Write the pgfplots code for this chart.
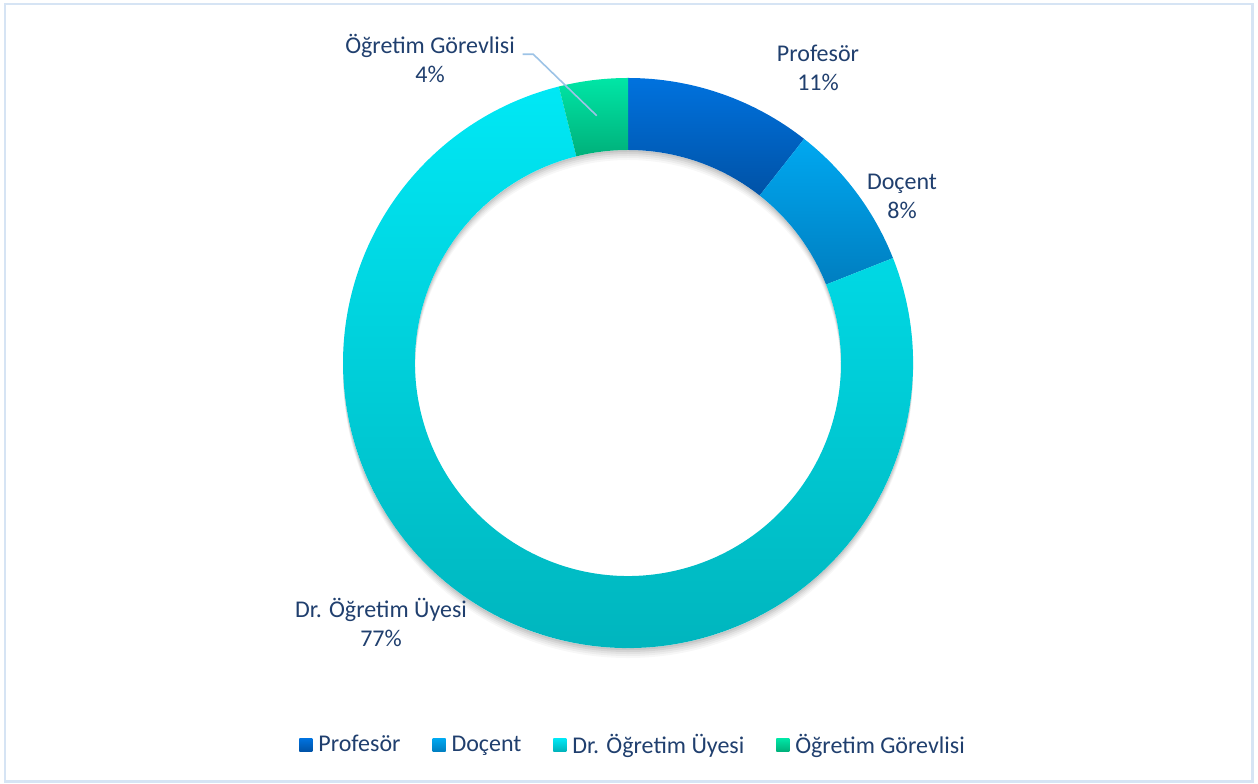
\documentclass[border=0pt]{standalone}
\usepackage{pgfplots}
\pgfplotsset{compat=1.18}
\usepackage{pgfplotstable}
\usepackage{fontspec}
\setmainfont{Carlito}
\usetikzlibrary{calc}

\definecolor{txt}{HTML}{203F6E}
\definecolor{pT}{HTML}{0072DE}\definecolor{pB}{HTML}{0052A6}
\definecolor{dT}{HTML}{00A8F0}\definecolor{dB}{HTML}{007EC0}
\definecolor{uT}{HTML}{00E8F5}\definecolor{uB}{HTML}{00B2BA}
\definecolor{gT}{HTML}{00E6A6}\definecolor{gB}{HTML}{00B07A}
\definecolor{frame}{HTML}{D6E4F4}
\definecolor{leader}{HTML}{9DC3E6}

\pgfplotstableread{
name value
Profesor 10.6
Docent 8.4
DrOU 77.1
OG 3.9
}\shares

\newcommand\lblfont{\fontsize{12bp}{14.5bp}\selectfont}
\newcommand\pct[1]{\pgfmathprintnumber[fixed,precision=0,assume math mode=true]{#1}\%}
\newcommand\sector[4]{%
  \shade[top color=#3,bottom color=#4]
    ($(O)+(#1:142.5bp)$) arc[start angle=#1,end angle=#2,radius=142.5bp]
    -- ($(O)+(#2:106.5bp)$) arc[start angle=#2,end angle=#1,radius=106.5bp] -- cycle;}
\newcommand\shadowring[2]{%
  \fill[black,opacity=#2,even odd rule]
    ($(O)+(0,-#1)$) circle[radius=142.5bp]
    ($(O)+(0,-#1)$) circle[radius=106.5bp];}
\newcommand\legsq[2]{\path[draw=none,fill=none] (0bp,0bp) rectangle (8bp,0.1bp);\shade[draw=none,top color=#1,bottom color=#2] (0bp,-3.25bp) rectangle (6.5bp,3.25bp);}

\begin{document}
\begin{tikzpicture}[x=0.5bp,y=0.5bp]
\path[use as bounding box] (0,0) rectangle (1258,783);
\pgfplotstablegetelem{0}{value}\of\shares \let\vA\pgfplotsretval
\pgfplotstablegetelem{1}{value}\of\shares \let\vB\pgfplotsretval
\pgfplotstablegetelem{2}{value}\of\shares \let\vC\pgfplotsretval
\pgfplotstablegetelem{3}{value}\of\shares \let\vD\pgfplotsretval
\pgfmathsetmacro\aO{90}
\pgfmathsetmacro\aA{\aO-3.6*\vA}
\pgfmathsetmacro\aB{\aA-3.6*\vB}
\pgfmathsetmacro\aC{\aB-3.6*\vC}
\pgfmathsetmacro\aD{\aC-3.6*\vD}
\begin{axis}[
  x=0.5bp, y=0.5bp, xmin=0, xmax=1258, ymin=0, ymax=783,
  scale only axis, hide axis, clip=false,
  anchor=south west, at={(0,0)},
  legend columns=4,
  legend style={at={(axis cs:299,38)}, anchor=west, draw=none, fill=none,
    font=\lblfont, text=txt, inner sep=0pt,
    nodes={inner sep=1.5bp},
    /tikz/every even column/.append style={column sep=14.5bp}},
  legend cell align=left,
]
\coordinate (O) at (axis cs:628,420);
% soft shadow
\shadowring{1bp}{0.07}
\shadowring{2bp}{0.06}
\shadowring{3bp}{0.05}
\shadowring{4bp}{0.04}
\shadowring{5bp}{0.03}
\fill[white,even odd rule] (O) circle[radius=142.5bp] (O) circle[radius=106.5bp];
\sector{\aO}{\aA}{pT}{pB}
\sector{\aA}{\aB}{dT}{dB}
\sector{\aB}{\aC}{uT}{uB}
\sector{\aC}{\aD}{gT}{gB}

\addlegendimage{legend image code/.code={\legsq{pT}{pB}}}
\addlegendentry{Profesör}
\addlegendimage{legend image code/.code={\legsq{dT}{dB}}}
\addlegendentry{Doçent}
\addlegendimage{legend image code/.code={\legsq{uT}{uB}}}
\addlegendentry{Dr. Öğretim Üyesi}
\addlegendimage{legend image code/.code={\legsq{gT}{gB}}}
\addlegendentry{Öğretim Görevlisi}

% data labels
\node[align=center,text=txt,font=\lblfont] at (axis cs:818,715) {Profesör\\\pct{\vA}};
\node[align=center,text=txt,font=\lblfont] at (axis cs:902,587) {Doçent\\\pct{\vB}};
\node[align=center,text=txt,font=\lblfont] at (axis cs:381,161) {Dr. Öğretim Üyesi\\\pct{\vC}};
\node[align=center,text=txt,font=\lblfont] at (axis cs:430,725) {Öğretim Görevlisi\\\pct{\vD}};
\draw[leader,line width=0.8bp] (axis cs:522.7,728.7) -- (axis cs:533.3,728.7) -- (axis cs:596.7,667.3);
% frame
\draw[frame,line width=1.2bp] (axis cs:5,779) rectangle (axis cs:1252.5,1.5);
\end{axis}
\end{tikzpicture}
\end{document}
